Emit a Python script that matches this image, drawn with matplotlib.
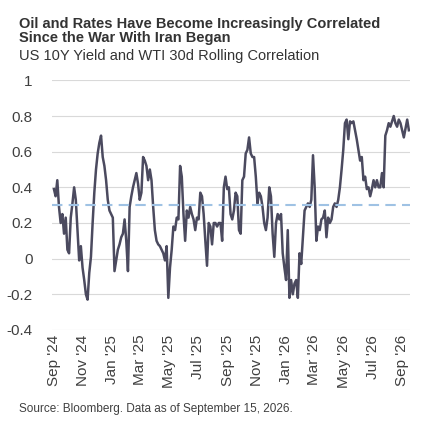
import matplotlib
matplotlib.use("Agg")
import matplotlib.pyplot as plt
import matplotlib.dates as mdates
import pandas as pd
import numpy as np

plt.rcParams['font.family'] = ['Liberation Sans', 'DejaVu Sans']

values = [.39,.35,.44,.29,.20,.25,.14,.23,.05,.03,.23,.31,.40,.33,.16,-.01,.07,-.05,-.12,-.20,-.23,-.08,.01,.20,.37,.50,.59,.65,.69,.57,.52,.44,.33,.27,.25,.23,-.07,-.01,.05,.08,.12,.14,.22,.10,-.07,.29,.35,.40,.44,.48,.42,.33,.37,.57,.55,.52,.44,.50,.44,.29,.16,.10,.08,.07,.05,.03,-.01,.07,-.22,-.05,.05,.18,.16,.23,.22,.52,.46,.25,.10,.27,.23,.29,.25,.22,.16,.23,.22,.37,.35,.25,.10,-.04,.20,.18,.08,.20,.20,.18,.20,
          .20,.10,.40,.46,.39,.40,.25,.22,.27,.37,.35,.16,.14,.44,.46,.59,.61,.68,.59,.57,.57,.46,.31,.37,.35,.29,.20,.16,.23,.40,.35,.14,.01,.20,.25,.22,.25,.03,-.05,-.12,.16,-.22,-.12,-.20,-.14,-.12,-.22,.03,-.03,.12,.27,.29,.31,.29,.33,.58,.40,.10,.18,.16,.22,.23,.27,.12,.23,.20,.22,.29,.31,.29,.33,.40,.50,.61,.76,.78,.67,.77,.76,.77,.72,.67,.61,.55,.57,.44,.46,.39,.40,.35,.39,.44,.40,.44,.40,.40,.48,.40,.69,.72,.76,.74,.77,.80,.76,.74,.78,.76,.72,.68,.73,.78,.72]
start_date = "2024-09-01"
end_date = "2026-09-15"
average = 0.30
dates = pd.date_range(start_date, end_date, periods=len(values))

fig = plt.figure(figsize=(4.23, 4.23), dpi=100)
ax = fig.add_axes([0.123, 0.22, 0.847, 0.59])
ax.plot(dates, values, color="#4b4a5f", lw=1.8)
ax.axhline(average, color="#9fc2e4", lw=1.5, ls=(0, (5, 3)))
ax.set_ylim(-0.4, 1.0)
ax.set_yticks(np.arange(-0.4, 1.01, 0.2))
ax.set_yticklabels(["-0.4", "-0.2", "0", "0.2", "0.4", "0.6", "0.8", "1"])
ax.set_xlim(pd.Timestamp("2024-08-28"), pd.Timestamp("2026-09-18"))
ax.xaxis.set_major_locator(mdates.MonthLocator(bymonth=[1, 3, 5, 7, 9, 11]))
ax.xaxis.set_major_formatter(mdates.DateFormatter("%b '%y"))
plt.setp(ax.get_xticklabels(), rotation=90)
ax.grid(axis="y", color="#d9d9d9", lw=0.8)
ax.set_axisbelow(True)
for s in ax.spines.values():
    s.set_visible(False)
ax.tick_params(length=0, labelsize=11, colors="#404040")
ax.tick_params(axis="y", pad=14)

fig.text(0.045, 0.96, "Oil and Rates Have Become Increasingly Correlated\nSince the War With Iran Began",
         fontsize=10.5, fontweight="bold", color="#333333", va="top", linespacing=1.05)
fig.text(0.045, 0.885, "US 10Y Yield and WTI 30d Rolling Correlation", fontsize=10.5, color="#333333", va="top")
fig.text(0.045, 0.025, "Source: Bloomberg. Data as of September 15, 2026.", fontsize=8.5, color="#404040")
fig.savefig("out.png", dpi=100)
